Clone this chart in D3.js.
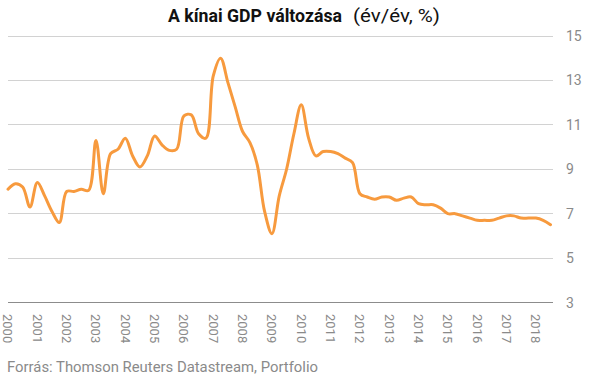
<!DOCTYPE html>
<html>
<head>
<meta charset="utf-8">
<script src="https://cdn.jsdelivr.net/npm/d3@7"></script>
<style>
  html, body { margin: 0; padding: 0; background: #fff; }
  svg { display: block; font-family: Roboto, "Noto Sans", sans-serif; }
</style>
</head>
<body>
<svg id="chart" width="605" height="378"></svg>
<script>
const titleMain = "A kínai GDP változása";
const titleUnit = "(év/év, %)";
const sourceText = "Forrás: Thomson Reuters Datastream, Portfolio";
const yearLabels = ["2000","2001","2002","2003","2004","2005","2006","2007","2008","2009","2010","2011","2012","2013","2014","2015","2016","2017","2018"];
const yTicks = [3, 5, 7, 9, 11, 13, 15];
// quarterly y/y GDP growth, 2000 Q1 .. 2018 Q3
const gdp = [
  8.1, 8.35, 8.2, 7.3,
  8.4, 7.8, 7.1, 6.6,
  8.0, 8.0, 8.1, 8.05,
  10.3, 7.9, 9.7, 9.9,
  10.4, 9.6, 9.1, 9.6,
  10.5, 10.1, 9.85, 9.9,
  11.4, 11.45, 10.6, 10.4,
  13.2, 14.0, 12.9, 11.8,
  10.7, 10.2, 9.2, 7.1,
  6.1, 7.8, 9.0, 10.6,
  11.9, 10.4, 9.6, 9.8,
  9.8, 9.7, 9.5, 9.3,
  7.9, 7.75, 7.65, 7.75,
  7.75, 7.6, 7.7, 7.75,
  7.45, 7.4, 7.4, 7.25,
  7.0, 7.0, 6.9, 6.8,
  6.7, 6.7, 6.7, 6.8,
  6.9, 6.9, 6.8, 6.8,
  6.8, 6.7, 6.5
];

const svg = d3.select("#chart");
const x = d3.scaleLinear().domain([0, gdp.length - 1]).range([8, 550.5]);
const y = d3.scaleLinear().domain([3, 15]).range([302.5, 36]);

// gridlines
svg.append("g").selectAll("line").data(yTicks).join("line")
  .attr("x1", 8).attr("x2", 553)
  .attr("y1", d => y(d)).attr("y2", d => y(d))
  .attr("stroke", d => d === 3 ? "#8c8c8c" : "#d2d2d2")
  .attr("stroke-width", 1)
  .attr("shape-rendering", "crispEdges");

// y labels (right)
svg.append("g").selectAll("text").data(yTicks).join("text")
  .attr("x", 566).attr("y", d => y(d)).attr("dy", "0.36em")
  .attr("font-size", 14).attr("fill", "#8a8a8a")
  .text(d => d);

// x labels rotated
svg.append("g").selectAll("text").data(yearLabels).join("text")
  .attr("transform", (d, i) => `translate(${x(i * 4)},314) rotate(90)`)
  .attr("dy", "0.35em")
  .attr("font-size", 13).attr("fill", "#8a8a8a")
  .text(d => d);

// line
const line = d3.line()
  .x((d, i) => x(i))
  .y(d => y(d))
  .curve(d3.curveCatmullRom.alpha(0.5));
svg.append("path").datum(gdp)
  .attr("d", line)
  .attr("fill", "none")
  .attr("stroke", "#F79A3E")
  .attr("stroke-width", 3)
  .attr("stroke-linejoin", "round")
  .attr("stroke-linecap", "round");

// title
svg.append("text").attr("x", 168).attr("y", 21.7)
  .attr("font-size", 17.5).attr("font-weight", "bold").attr("fill", "#111")
  .attr("textLength", 174).attr("lengthAdjust", "spacingAndGlyphs")
  .text(titleMain);
svg.append("text").attr("x", 353).attr("y", 21.7)
  .attr("font-size", 17.5).attr("fill", "#111")
  .attr("textLength", 87).attr("lengthAdjust", "spacingAndGlyphs")
  .text(titleUnit);

// source
svg.append("text").attr("x", 7).attr("y", 371.5)
  .attr("font-size", 14).attr("fill", "#8a8a8a")
  .attr("textLength", 311).attr("lengthAdjust", "spacingAndGlyphs")
  .text(sourceText);
</script>
</body>
</html>
